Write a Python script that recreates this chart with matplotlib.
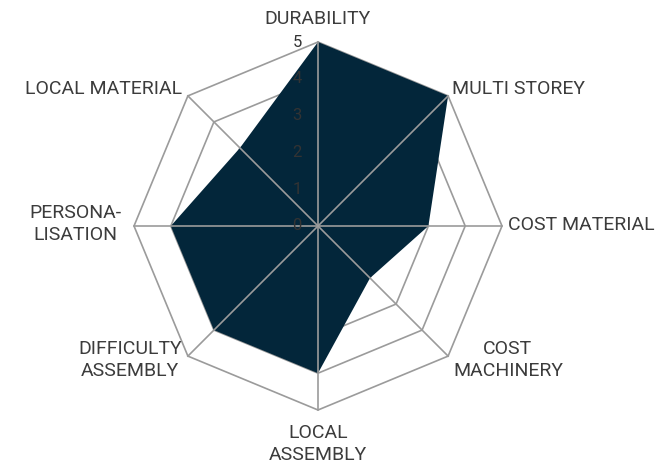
import numpy as np
import matplotlib
matplotlib.use("Agg")
import matplotlib.pyplot as plt

categories = ["DURABILITY", "MULTI STOREY", "COST MATERIAL", "COST\nMACHINERY",
              "LOCAL\nASSEMBLY", "DIFFICULTY\nASSEMBLY", "PERSONA-\nLISATION", "LOCAL MATERIAL"]
values = [5, 5, 3, 2, 4, 4, 4, 3]
tick_values = [0, 1, 2, 3, 4, 5]

# label anchor positions (data units, 1 unit = one ring step)
label_pos = [(0, 5.62), (5.45, 3.72), (7.15, 0.03), (5.16, -3.64),
             (0, -5.92), (-5.11, -3.64), (-6.6, 0.05), (-5.84, 3.72)]

W, H = 658, 467
cx, cy, unit = 318, 226, 36.8

fig = plt.figure(figsize=(W / 100, H / 100), dpi=100)
ax = fig.add_axes([0, 0, 1, 1])
ax.set_xlim(-cx / unit, (W - cx) / unit)
ax.set_ylim((cy - H) / unit, cy / unit)
ax.axis("off")

n = len(categories)
ang = np.pi / 2 - np.arange(n) * 2 * np.pi / n
grid_c = "#9b9b9b"
fill_c = "#03263a"
txt_c = "#3c3c3c"
fam = ["Roboto", "DejaVu Sans"]

# rings
for r in tick_values[1:]:
    xs = np.append(r * np.cos(ang), r * np.cos(ang[0]))
    ys = np.append(r * np.sin(ang), r * np.sin(ang[0]))
    ax.plot(xs, ys, color=grid_c, lw=1.2, zorder=1)

# data polygon
v = np.array(values, dtype=float)
ax.fill(v * np.cos(ang), v * np.sin(ang), color=fill_c, zorder=2, lw=0)

# spokes
for a in ang:
    ax.plot([0, 5 * np.cos(a)], [0, 5 * np.sin(a)], color=grid_c, lw=1.2, zorder=3)

# tick labels
for t in tick_values:
    ax.text(-0.57, t, str(t), ha="center", va="center", fontsize=12,
            color="#333333", zorder=4, family=fam)

for lab, (x, y) in zip(categories, label_pos):
    ax.text(x, y, lab, ha="center", va="center", fontsize=14, color=txt_c,
            linespacing=1.25, family=fam)

fig.savefig("out.png", dpi=100)
